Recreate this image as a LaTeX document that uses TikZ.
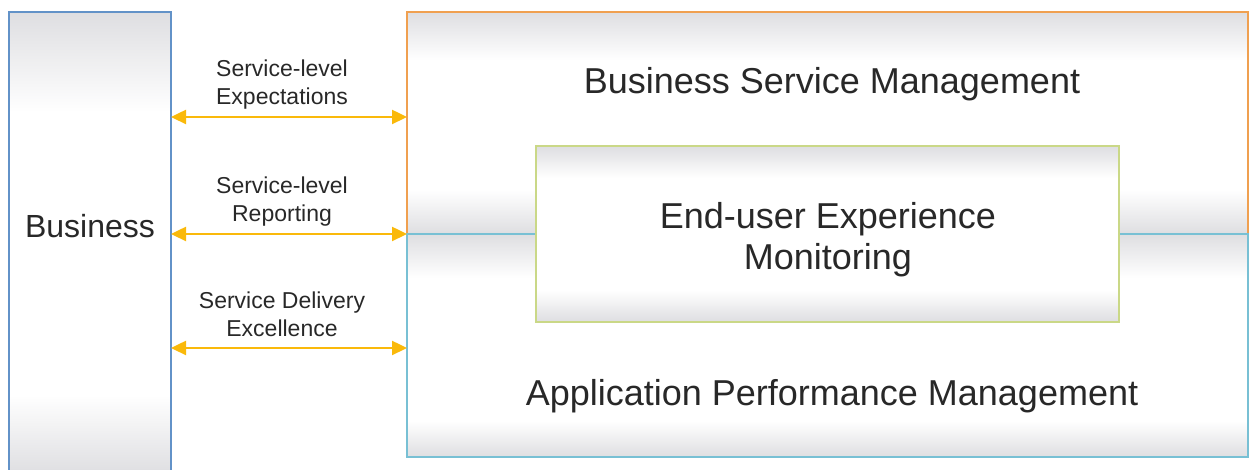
\documentclass[tikz,border=0pt]{standalone}
\usepackage{fontspec}
\setmainfont{Liberation Sans}
\usetikzlibrary{arrows.meta}

\definecolor{bizblue}{RGB}{98,146,200}
\definecolor{bsmorange}{RGB}{240,160,80}
\definecolor{apmteal}{RGB}{120,192,212}
\definecolor{eumgreen}{RGB}{202,216,135}
\definecolor{arrowgold}{RGB}{250,185,10}
\definecolor{edgegray}{RGB}{222,222,225}
\definecolor{textgray}{RGB}{40,40,40}

% soft grey bands along the top and bottom edges of a box node
\newcommand\softbands[3]{%
  \shade[top color=edgegray, bottom color=white]
    (#1.north west) rectangle ([yshift=-#2]#1.north east);
  \shade[top color=white, bottom color=edgegray]
    ([yshift=#3]#1.south west) rectangle (#1.south east);
}

\tikzset{
  boxbody/.style={fill=white, inner sep=0pt, outer sep=0pt, anchor=north west},
  boxline/.style={line width=0.8pt},
  flowarrow/.style={draw=arrowgold, line width=1.2pt,
    {Triangle[length=7.5pt,width=7pt]}-{Triangle[length=7.5pt,width=7pt]}},
  linktext/.style={font=\fontsize{11.5}{14}\selectfont, text=textgray, align=center},
  bigtext/.style={font=\fontsize{18}{20.5}\selectfont, text=textgray, align=center},
}

\begin{document}
\begin{tikzpicture}[x=0.5pt, y=0.5pt]
  \useasboundingbox (0,0) rectangle (1250,470);

  % left column
  \node[boxbody, minimum width=81pt, minimum height=231.5pt] (biz) at (9,458) {};
  \softbands{biz}{50pt}{40pt}
  \draw[boxline, bizblue] (biz.north west) rectangle (biz.south east);
  \node[font=\fontsize{16}{18}\selectfont, text=textgray] (biztext) at (90,244) {Business};

  % right-hand stack
  \node[boxbody, minimum width=420.5pt, minimum height=111pt] (bsm) at (407,458) {};
  \softbands{bsm}{24pt}{22pt}
  \draw[boxline, bsmorange] (bsm.north west) rectangle (bsm.south east);

  \node[boxbody, minimum width=420.5pt, minimum height=111.5pt] (apm) at (407,236) {};
  \softbands{apm}{22pt}{18pt}
  \draw[boxline, apmteal] (apm.north west) rectangle (apm.south east);

  \node[bigtext] (bsmtext) at (832,386) {Business Service Management};
  \node[bigtext] (apmtext) at (832,74) {Application Performance Management};

  \node[boxbody, minimum width=291.5pt, minimum height=88pt] (eum) at (536,324) {};
  \softbands{eum}{16pt}{16pt}
  \draw[boxline, eumgreen] (eum.north west) rectangle (eum.south east);
  \node[bigtext] (eumtext) at (828,230) {End-user Experience\\Monitoring};

  % links between the business and the service management stack
  \coordinate (r1) at (0,353);
  \coordinate (r3) at (0,122);
  \draw[flowarrow] (biz.east |- r1) -- (bsm.west |- r1);
  \draw[flowarrow] (biz.east |- bsm.south west) -- (bsm.south west);
  \draw[flowarrow] (biz.east |- r3) -- (apm.west |- r3);

  \node[linktext] (l1) at (282,385) {Service-level\\Expectations};
  \node[linktext] (l2) at (282,268) {Service-level\\Reporting};
  \node[linktext] (l3) at (282,156) {Service Delivery\\Excellence};
\end{tikzpicture}
\end{document}
